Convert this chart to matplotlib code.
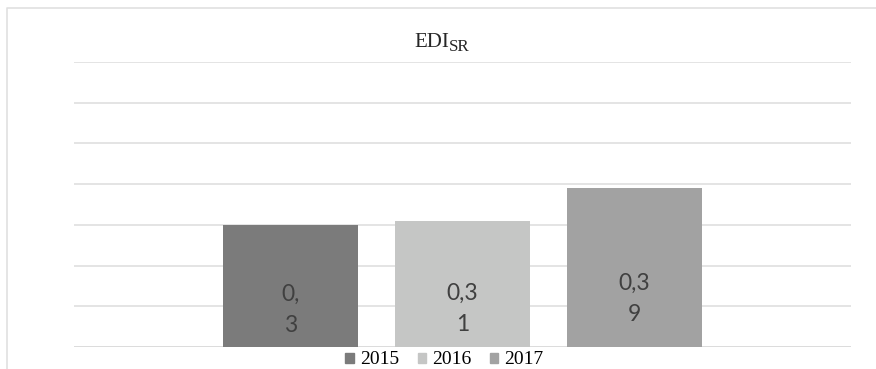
import matplotlib
matplotlib.use("Agg")
import matplotlib.pyplot as plt
from matplotlib.lines import Line2D

years = ["2015", "2016", "2017"]
values = [0.30, 0.31, 0.39]
colors = ["#7b7b7b", "#c5c6c5", "#a2a2a2"]


def wrapped(v):
    # values written with a decimal comma, broken over two lines
    s = f"{v:g}".replace(".", ",")
    cut = 2 if len(s) == 3 else 3
    return s[:cut] + "\n" + s[cut:]


W, H = 876, 369
fig = plt.figure(figsize=(W / 100, H / 100), dpi=100)
fig.patch.set_facecolor("white")

# plot area in pixel terms
left, right, base, top = 74, 851, 347, 62
ax = fig.add_axes([left / W, 1 - base / H, (right - left) / W, (base - top) / H])

xs = [-1, 0, 1]
ax.bar(xs, values, width=0.79, color=colors, zorder=2)
ax.set_xlim(-2.259, 2.259)
ax.set_ylim(0, 0.7)
ax.set_yticks([0.1 * i for i in range(8)])
ax.yaxis.grid(True, color="#dcdcdc", linewidth=1.1, zorder=0)
ax.set_xticks([])
ax.tick_params(axis="y", length=0, labelleft=False)
for sp in ax.spines.values():
    sp.set_visible(False)
ax.axhline(0, color="#d9d9d9", linewidth=1.3, zorder=1)

for x, v in zip(xs, values):
    ax.text(x, v * 0.3, wrapped(v), ha="center", va="center",
            fontsize=16.5, family="Lato", color="#404040",
            linespacing=1.6, zorder=3)

# title with subscript
fig.text(414 / W, 1 - 46.7 / H, "EDI", family="Liberation Serif",
         fontsize=15, color="#262626", va="baseline", ha="left")
fig.text(448.5 / W, 1 - 50.7 / H, "SR", family="Liberation Serif",
         fontsize=12.3, color="#262626", va="baseline", ha="left")

handles = [plt.Rectangle((0, 0), 1, 1, color=c) for c in colors]
fig.legend(handles, years, loc="center", bbox_to_anchor=(444.5 / W, 1 - 360 / H),
           ncol=3, frameon=False, prop={"family": "Liberation Serif", "size": 14},
           handlelength=0.42, handleheight=0.42, handletextpad=0.33,
           columnspacing=0.95, borderpad=0, borderaxespad=0)

# light outer frame on the left and top
fig.add_artist(Line2D([6.5 / W, 6.5 / W, 1], [0, 1 - 7.5 / H, 1 - 7.5 / H],
                      transform=fig.transFigure, color="#e0e0e0", linewidth=1.2))

fig.savefig("out.png", dpi=100)
